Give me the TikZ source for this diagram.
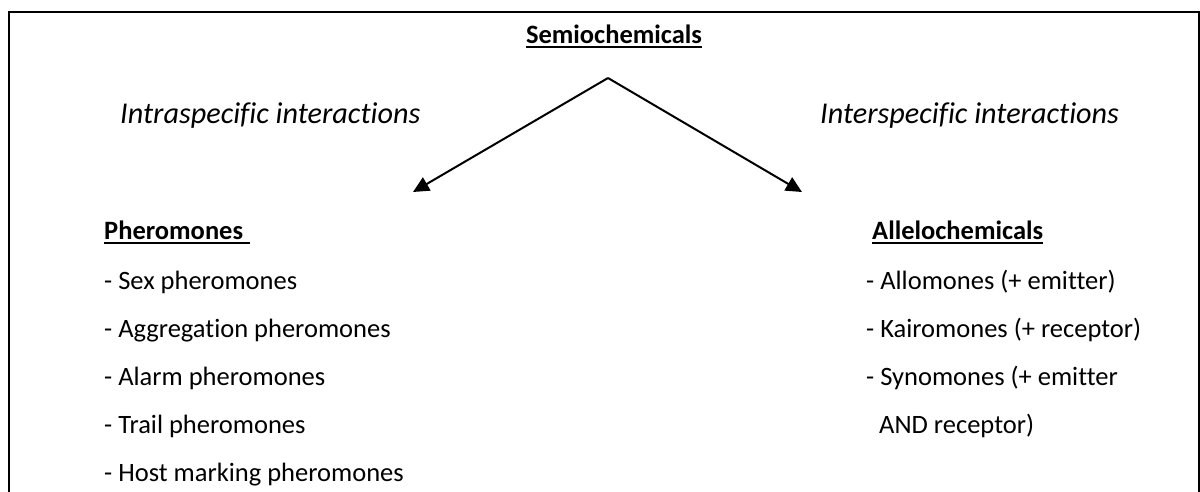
\documentclass[tikz,border=0pt]{standalone}
\usepackage{fontspec}
\setmainfont{Carlito}[Ligatures=NoCommon]
\usetikzlibrary{arrows.meta}
\begin{document}
\begin{tikzpicture}[x=1pt,y=-1pt,
  frame/.style={line width=2pt,line cap=rect},
  arr/.style={line width=2pt,-{Triangle[length=16pt,width=15pt]}},
  uline/.style={line width=2.2pt},
  body/.style={anchor=base west,inner sep=0pt,font=\fontsize{26.5}{30}\selectfont},
  head/.style={anchor=base west,inner sep=0pt,font=\fontsize{26.5}{30}\selectfont\bfseries},
  ital/.style={anchor=base west,inner sep=0pt,font=\fontsize{30.2}{34}\selectfont\itshape}]
\useasboundingbox (0,0) rectangle (1200,491);
% frame (open at the bottom)
\draw[frame] (9,491) -- (9,12) -- (1199,12) -- (1199,491);
% title
\node[head,anchor=base] (semi) at (614,43) {Semiochemicals};
\draw[uline] ([yshift=-4pt]semi.base west) -- ([yshift=-4pt]semi.base east);
% interaction labels
\node[ital] (intra) at (120,123) {Intraspecific interactions};
\node[ital] (inter) at (820,123) {Interspecific interactions};
% arrows
\coordinate (apex) at (608,78);
\coordinate (ltip) at (413,192);
\coordinate (rtip) at (802,192);
\draw[arr] (apex) -- (ltip);
\draw[arr] (apex) -- (rtip);
% pheromones
\node[head] (ph) at (104,239) {Pheromones};
\draw[uline] ([yshift=-4pt]ph.base west) -- ([yshift=-4pt,xshift=7pt]ph.base east);
\node[body] (p1) at (104,289) {- Sex pheromones};
\node[body] (p2) at (104,337) {- Aggregation pheromones};
\node[body] (p3) at (104,385) {- Alarm pheromones};
\node[body] (p4) at (104,433) {- Trail pheromones};
\node[body] (p5) at (104,481) {- Host marking pheromones};
% allelochemicals
\node[head] (al) at (872,239) {Allelochemicals};
\draw[uline] ([yshift=-4pt]al.base west) -- ([yshift=-4pt]al.base east);
\node[body] (a1) at (866,289) {- Allomones (+ emitter)};
\node[body] (a2) at (866,337) {- Kairomones (+ receptor)};
\node[body] (a3) at (866,385) {- Synomones (+ emitter};
\node[body] (a4) at (879,433) {AND receptor)};
\end{tikzpicture}
\end{document}
